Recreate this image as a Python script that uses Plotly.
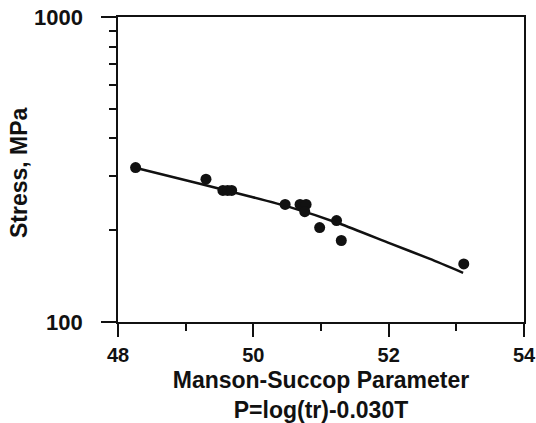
import plotly.graph_objects as go

# Data points
p_param = [48.26, 49.30, 49.55, 49.62, 49.68, 50.47, 50.69, 50.78, 50.76, 50.98, 51.23, 51.30, 53.11]
stress = [321, 294, 270, 270, 270, 243, 243, 243, 230, 204, 215, 185, 155]

# Fitted curve
fit_x = [48.27, 49.21, 49.95, 50.54, 51.28, 52.02, 52.61, 53.10]
fit_y = [320, 284, 258, 238, 210, 181, 161, 145]

x_ticks = [48, 50, 52, 54]
x_minor = [49, 51, 53]
y_ticks = [100, 1000]
y_tick_text = ["100", "1000"]
y_minor = [200, 300, 400, 500, 600, 700, 800, 900]

FONT = "Liberation Sans, Arial, sans-serif"

fig = go.Figure()
fig.add_trace(go.Scatter(x=fit_x, y=fit_y, mode="lines",
                         line=dict(color="#111111", width=2.5, shape="spline", smoothing=0.6),
                         showlegend=False, hoverinfo="skip"))
fig.add_trace(go.Scatter(x=p_param, y=stress, mode="markers",
                         marker=dict(color="#111111", size=11),
                         showlegend=False))

annotations = [dict(text="<b>Stress, MPa</b>", textangle=-90,
                    xref="paper", yref="paper", x=-0.2438, y=0.4885,
                    xanchor="center", yanchor="middle", showarrow=False,
                    font=dict(size=23, family=FONT, color="#111111"))]
import math
for v, t in zip(y_ticks, y_tick_text):
    annotations.append(dict(text="<b>" + t + "</b>", xref="paper", yref="y",
                            x=-0.0813, y=math.log10(v), xanchor="right", yanchor="middle",
                            showarrow=False,
                            font=dict(size=22, family=FONT, color="#111111")))

fig.update_layout(
    width=536, height=423,
    margin=dict(l=118, r=12, t=17, b=101, autoexpand=False),
    paper_bgcolor="white", plot_bgcolor="white",
    font=dict(family=FONT, color="#111111"),
    xaxis=dict(
        range=[48, 54], tickvals=x_ticks, ticktext=[str(v) for v in x_ticks],
        ticks="outside", ticklen=13, tickwidth=2, tickcolor="#111111",
        minor=dict(tickvals=x_minor, ticks="outside", ticklen=7, tickwidth=2, tickcolor="#111111"),
        showline=True, linewidth=2, linecolor="#111111", mirror=True,
        showgrid=False, zeroline=False, automargin=False,
        tickfont=dict(size=20, family=FONT, color="#111111", weight="bold"),
        ticklabelstandoff=1,
        title=dict(text="<b>Manson-Succop Parameter<br>P=log(tr)-0.030T</b>",
                   font=dict(size=23, family=FONT, color="#111111"), standoff=8),
    ),
    yaxis=dict(
        type="log", range=[2, 3], tickvals=y_ticks, showticklabels=False,
        ticks="outside", ticklen=15, tickwidth=2, tickcolor="#111111",
        minor=dict(tickvals=y_minor, ticks="outside", ticklen=7, tickwidth=2, tickcolor="#111111"),
        showline=True, linewidth=2, linecolor="#111111", mirror=True,
        showgrid=False, zeroline=False, automargin=False,
    ),
    annotations=annotations,
)

fig.write_html("out.html")
